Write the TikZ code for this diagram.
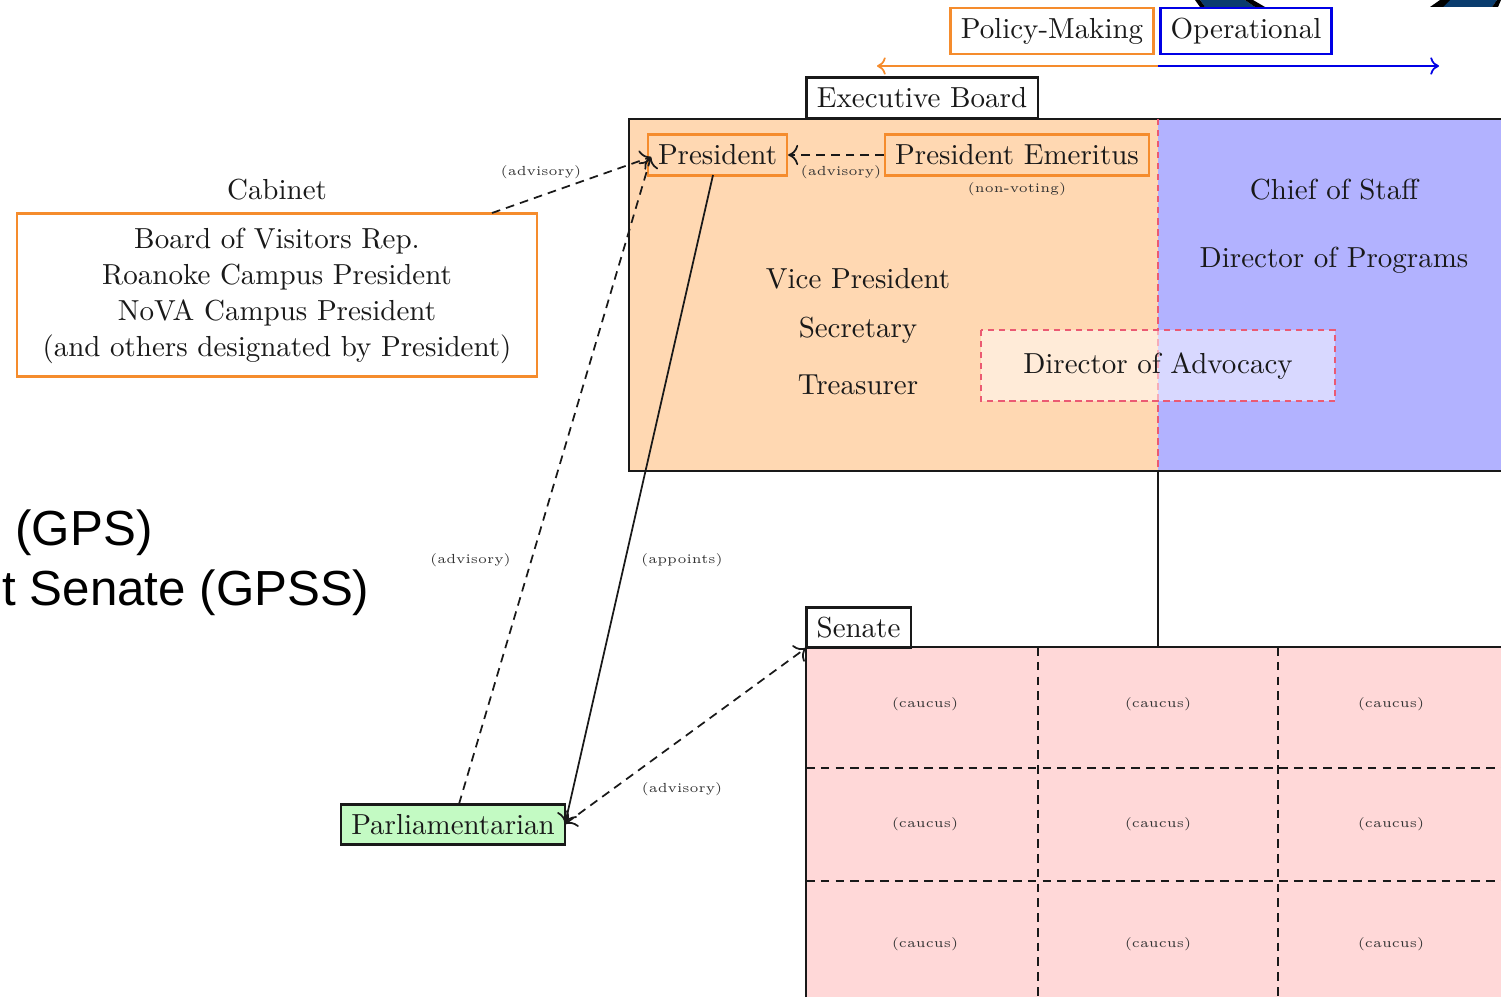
\documentclass[tikz,border=0pt]{standalone}
\usepackage{fontspec}
\newfontfamily\arialf{Liberation Sans}
\setmainfont{Latin Modern Roman}
\usetikzlibrary{arrows.meta}
\definecolor{orangeline}{RGB}{245,140,45}
\definecolor{orangefill}{RGB}{255,216,178}
\definecolor{bluefill}{RGB}{178,178,255}
\definecolor{pinkline}{RGB}{235,90,115}
\definecolor{senatefill}{RGB}{255,216,216}
\definecolor{parlfill}{RGB}{195,250,195}
\definecolor{navy}{RGB}{10,60,110}
\tikzset{
  lab/.style={inner sep=0pt,text=black!90},
  small/.style={inner sep=0pt,font=\fontsize{4.55}{5}\selectfont,text=black!80},
  obox/.style={draw=orangeline,line width=0.75pt,inner sep=0pt,text=black!90},
  kbox/.style={draw=black!90,line width=0.7pt,fill=white,inner sep=0pt,text=black!90},
  conn/.style={draw=black!90,line width=0.6pt,-{To[length=3.5pt,width=7pt]}},
  dconn/.style={conn,dash pattern=on 3pt off 2.1pt},
  grid/.style={draw=black!90,line width=0.6pt,dash pattern=on 3pt off 2.1pt}
}
\begin{document}
\begin{tikzpicture}[x=0.345pt,y=-0.345pt]
\useasboundingbox (0,0) rectangle (1501,997);
% logo fragments
\fill[navy] (1200,0) -- (1245,0) -- (1255,7) -- (1205,7) -- cycle;
\fill[black] (1195,0) -- (1200,0) -- (1205,7) -- (1200,7) -- cycle;
\fill[black] (1245,0) -- (1253,0) -- (1265,7) -- (1255,7) -- cycle;
\fill[navy] (1447,0) -- (1497,0) -- (1492,7) -- (1440,7) -- cycle;
\fill[black] (1440,0) -- (1450,0) -- (1443,7) -- (1430,7) -- cycle;
\fill[black] (1497,0) -- (1501,0) -- (1498,7) -- (1492,7) -- cycle;
% big panels
\fill[orangefill] (629,119) rectangle (1158,471);
\fill[bluefill] (1158,119) rectangle (1501,471);
\draw[black!90,line width=0.65pt] (1501,119) -- (629,119) -- (629,471) -- (1501,471);
\draw[pinkline,line width=0.55pt,dash pattern=on 2.2pt off 1.6pt] (1158,119) -- (1158,471);
% director of advocacy
\fill[white,opacity=0.5] (981,330) rectangle (1335,401);
\draw[pinkline,line width=0.55pt,dash pattern=on 2.2pt off 1.6pt] (981,330) rectangle (1335,401);
\node[lab] (advocacy) at (1158,366) {Director of Advocacy};
% header boxes
\node[obox,minimum width=203pt*0.345,minimum height=46pt*0.345,fill=white] (policy) at (1052,31) {Policy-Making};
\node[draw=blue!90!black,line width=0.75pt,inner sep=0pt,text=black!90,minimum width=171pt*0.345,minimum height=46pt*0.345] (oper) at (1246,31) {Operational};
\coordinate (split) at (1158,66);
\coordinate (arrowL) at (877,66);
\coordinate (arrowR) at (1439,66);
\draw[orangeline,line width=0.6pt,-{To[length=3pt,width=6pt]}] (split) -- (arrowL);
\draw[blue!90!black,line width=0.6pt,-{To[length=3pt,width=6pt]}] (split) -- (arrowR);
\node[kbox,minimum width=231pt*0.345,minimum height=41pt*0.345] (exec) at (922,98) {Executive Board};
% top row
\node[obox,minimum width=139pt*0.345,minimum height=41pt*0.345] (pres) at (717.5,155) {President};
\node[obox,minimum width=264pt*0.345,minimum height=41pt*0.345] (emer) at (1017,155) {President Emeritus};
\node[small] (l1) at (1017,189.5) {(non-voting)};
\node[small] (l2) at (841,172) {(advisory)};
\node[small] (l3) at (541,172) {(advisory)};
\node[small] (l4) at (470.5,560) {(advisory)};
\node[small] (l5) at (682,560) {(appoints)};
\node[small] (l6) at (682,789) {(advisory)};
% panel text
\node[lab] (vp) at (858,279) {Vice President};
\node[lab] (sec) at (858,330.5) {Secretary};
\node[lab] (tre) at (858,385) {Treasurer};
\node[lab] (cos) at (1334,190) {Chief of Staff};
\node[lab] (dop) at (1334,260) {Director of Programs};
% cabinet
\node[lab] (cabt) at (277,190) {Cabinet};
\node[obox,minimum width=520pt*0.345,minimum height=163pt*0.345,align=center,fill=white] (cab) at (277,295) {};
\node[lab] (cab1) at (277,241) {Board of Visitors Rep.};
\node[lab] (cab2) at (277,277) {Roanoke Campus President};
\node[lab] (cab3) at (277,313) {NoVA Campus President};
\node[lab] (cab4) at (277,349) {(and others designated by President)};
% sans text
\node[anchor=base west,inner sep=0pt,font=\arialf\fontsize{17}{18}\selectfont,text=black] (gps) at (15,545) {(GPS)};
\node[anchor=base east,inner sep=0pt,font=\arialf\fontsize{17}{18}\selectfont,text=black] (gpss) at (370,605) {t Senate (GPSS)};
% senate
\fill[senatefill] (806,647) rectangle (1501,997);
\draw[black!90,line width=0.65pt] (806,997) -- (806,647) -- (1501,647);
\draw[black!90,line width=0.65pt] (1158,471) -- (1158,647);
\draw[grid] (1038,647) -- (1038,997);
\draw[grid] (1278,647) -- (1278,997);
\draw[grid] (806,768) -- (1501,768);
\draw[grid] (806,881) -- (1501,881);
\node[kbox,minimum width=104pt*0.345,minimum height=40pt*0.345] (senate) at (858.5,627.5) {Senate};
\coordinate (senatecorner) at (806,648);
\foreach \xx/\n in {925/a,1158/b,1391/c}{
  \foreach \yy/\m in {704.5/a,824.5/b,944.5/c}{
    \node[small] (c\n\m) at (\xx,\yy) {(caucus)};
  }
}
% parliamentarian
\node[draw=black!90,line width=0.7pt,fill=parlfill,inner sep=0pt,text=black!90,minimum width=224pt*0.345,minimum height=40pt*0.345] (parl) at (453,824.5) {Parliamentarian};
% connectors
\coordinate (parlR) at (565,824);
\coordinate (presL) at (651,157);
\coordinate (parlT) at (459,804);
\coordinate (cabT) at (492,213);
\coordinate (presB) at (713,175);
\draw[dconn] (cabT) -- (presL);
\draw[dconn] (parlT) -- (presL);
\draw[conn] (presB) -- (parlR);
\draw[dconn] (emer.west) -- (pres.east);
\draw[dconn,{To[length=3.5pt,width=7pt]}-{To[length=3.5pt,width=7pt]}] (parlR) -- (senatecorner);
\end{tikzpicture}
\end{document}
